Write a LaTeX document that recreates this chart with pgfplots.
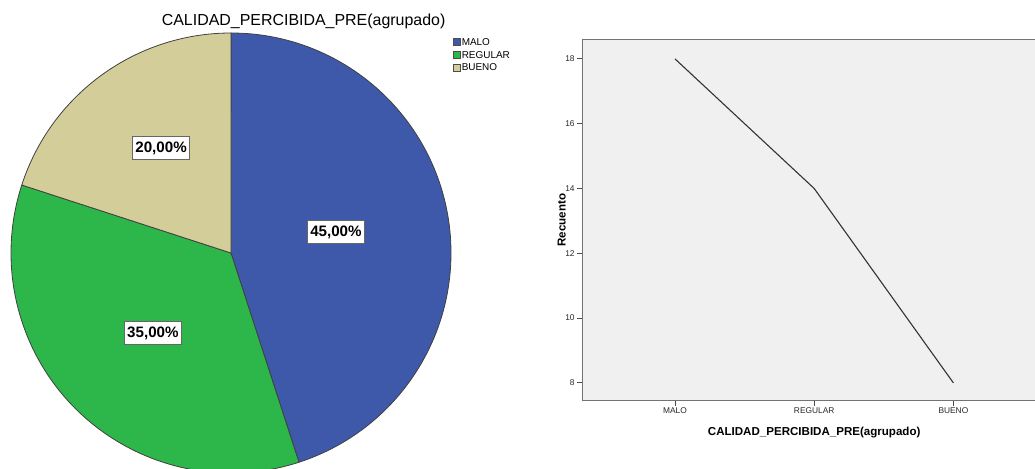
\documentclass[border=0pt]{standalone}
\usepackage{pgfplots}
\pgfplotsset{compat=1.18}
\usepackage{fontspec}
\setmainfont{Liberation Sans}
\definecolor{cmalo}{RGB}{62,88,170}
\definecolor{creg}{RGB}{45,183,74}
\definecolor{cbue}{RGB}{211,206,153}
\definecolor{bgc}{RGB}{240,240,240}
\begin{document}
\begin{tikzpicture}
\path[use as bounding box] (0,0) rectangle (517.5bp,234.5bp);
% ---------------- pie chart ----------------
\begin{axis}[
  at={(5.5bp,-2bp)}, anchor=south west,
  x=110bp, y=110bp,
  xmin=-1, xmax=1, ymin=-1, ymax=1,
  hide axis, clip=false,
  every axis title shift=0pt,
  title={CALIDAD\_PERCIBIDA\_PRE(agrupado)},
  title style={at={(axis description cs:0.665,1.026)}, anchor=center, yshift=0pt, font=\fontsize{8}{9}\selectfont},
  legend style={at={(axis description cs:1.004,0.99)}, anchor=north west, draw=none, fill=none,
    inner sep=0pt, font=\fontsize{5}{6}\selectfont, row sep=1.6bp,
    nodes={inner sep=0.4bp, text height=3.6bp, text depth=0.3bp}},
  legend cell align=left,
]
\addlegendimage{legend image code/.code={\draw[fill=cmalo, draw=black!70, line width=0.4bp] (0bp,-1.7bp) rectangle (3.5bp,1.8bp);}}
\addlegendentry{MALO}
\addlegendimage{legend image code/.code={\draw[fill=creg, draw=black!70, line width=0.4bp] (0bp,-1.7bp) rectangle (3.5bp,1.8bp);}}
\addlegendentry{REGULAR}
\addlegendimage{legend image code/.code={\draw[fill=cbue, draw=black!70, line width=0.4bp] (0bp,-1.7bp) rectangle (3.5bp,1.8bp);}}
\addlegendentry{BUENO}
% slices: MALO 45, REGULAR 35, BUENO 20 (percent), clockwise from the top
\filldraw[fill=cmalo, draw=black!75, line width=0.4bp] (axis cs:0,0) -- ({cos(90)},{sin(90)}) arc[start angle=90, end angle={90-3.6*45}, radius=110bp] -- cycle;
\filldraw[fill=creg, draw=black!75, line width=0.4bp] (axis cs:0,0) -- ({cos(90-3.6*45)},{sin(90-3.6*45)}) arc[start angle={90-3.6*45}, end angle={90-3.6*80}, radius=110bp] -- cycle;
\filldraw[fill=cbue, draw=black!75, line width=0.4bp] (axis cs:0,0) -- ({cos(90-3.6*80)},{sin(90-3.6*80)}) arc[start angle={90-3.6*80}, end angle={90-3.6*100}, radius=110bp] -- cycle;
\tikzset{plab/.style={fill=white, draw=black!60, line width=0.4bp, inner xsep=1.5bp, inner ysep=2.4bp,
  text height=5.8bp, text depth=0.9bp, font=\fontsize{7.6}{8}\selectfont\bfseries}}
\node[plab] at (axis cs:0.477,0.095) {45,00\%};
\node[plab] at (axis cs:-0.355,-0.364) {35,00\%};
\node[plab] at (axis cs:-0.318,0.477) {20,00\%};
\end{axis}
% ---------------- line chart ----------------
\begin{axis}[
  at={(291bp,34.15bp)}, anchor=south west,
  x=69.6bp, y=16.2bp,
  xmin=-0.668, xmax=2.668, ymin=7.45, ymax=18.6,
  axis background/.style={fill=bgc},
  axis line style={draw=black!55, line width=0.5bp},
  xtick={0,1,2}, xticklabels={MALO,REGULAR,BUENO},
  ytick={8,10,12,14,16,18},
  tick align=outside, xtick pos=bottom, ytick pos=left,
  major tick length=2.5bp,
  tick style={black!70, line width=0.4bp},
  tick label style={font=\fontsize{4.2}{5}\selectfont, inner sep=1bp, text=black!85},
  /pgf/number format/assume math mode=true,
  xlabel={CALIDAD\_PERCIBIDA\_PRE(agrupado)},
  ylabel={Recuento},
  label style={font=\fontsize{5.8}{7}\selectfont\bfseries},
  xlabel style={at={(axis description cs:0.5,-0.0886)}, anchor=center},
  ylabel style={at={(axis description cs:-0.0439,0.5)}, anchor=center},
]
\addplot[black!80, line width=0.55bp, mark=none] coordinates {(0,18) (1,14) (2,8)};
\end{axis}
\end{tikzpicture}
\end{document}
